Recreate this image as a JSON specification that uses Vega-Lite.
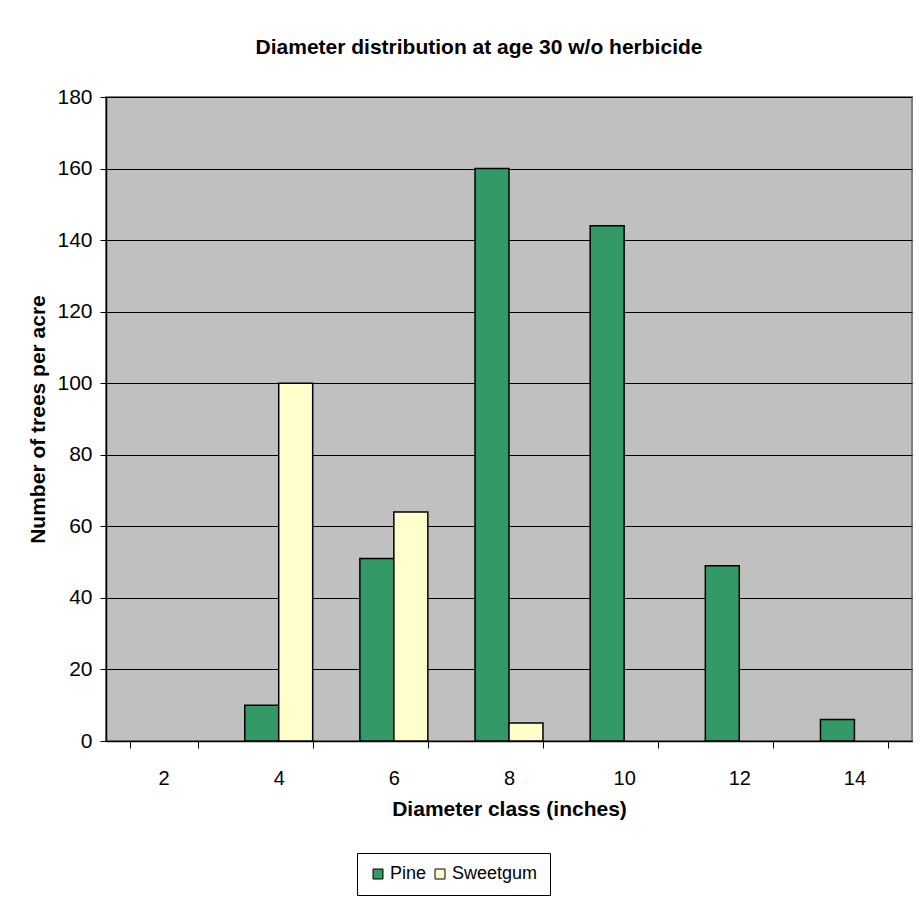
{
  "$schema": "https://vega.github.io/schema/vega-lite/v6.json",
  "width": 806,
  "height": 644,
  "autosize": {"type": "none"},
  "padding": {"left": 106, "top": 97, "right": 12, "bottom": 157},
  "background": "#ffffff",
  "title": {
    "text": "Diameter distribution at age 30 w/o herbicide",
    "font": "Liberation Sans",
    "fontSize": 21,
    "fontWeight": "bold",
    "color": "#000000",
    "anchor": "middle",
    "dx": -30,
    "offset": 28
  },
  "data": {
    "values": [
      {"class": "2", "species": "Pine", "trees": 0},
      {"class": "2", "species": "Sweetgum", "trees": 0},
      {"class": "4", "species": "Pine", "trees": 10},
      {"class": "4", "species": "Sweetgum", "trees": 100},
      {"class": "6", "species": "Pine", "trees": 51},
      {"class": "6", "species": "Sweetgum", "trees": 64},
      {"class": "8", "species": "Pine", "trees": 160},
      {"class": "8", "species": "Sweetgum", "trees": 5},
      {"class": "10", "species": "Pine", "trees": 144},
      {"class": "10", "species": "Sweetgum", "trees": 0},
      {"class": "12", "species": "Pine", "trees": 49},
      {"class": "12", "species": "Sweetgum", "trees": 0},
      {"class": "14", "species": "Pine", "trees": 6},
      {"class": "14", "species": "Sweetgum", "trees": 0}
    ]
  },
  "mark": {"type": "bar", "stroke": "#000000", "strokeWidth": 1.5},
  "encoding": {
    "x": {
      "field": "class",
      "type": "nominal",
      "sort": ["2", "4", "6", "8", "10", "12", "14"],
      "scale": {"paddingInner": 0.41, "paddingOuter": 0.205},
      "axis": {
        "title": "Diameter class (inches)",
        "labelAngle": 0,
        "tickBand": "extent",
        "tickSize": 7,
        "tickColor": "#000000",
        "domainColor": "#000000",
        "labelFont": "Liberation Sans",
        "labelFontSize": 20,
        "labelColor": "#000000",
        "labelPadding": 20,
        "titleFont": "Liberation Sans",
        "titleFontSize": 21,
        "titleFontWeight": "bold",
        "titleColor": "#000000",
        "titlePadding": 10
      }
    },
    "xOffset": {"field": "species", "type": "nominal", "scale": {"paddingInner": 0, "paddingOuter": 0}},
    "y": {
      "field": "trees",
      "type": "quantitative",
      "scale": {"domain": [0, 180], "nice": false},
      "axis": {
        "title": "Number of trees per acre",
        "values": [0, 20, 40, 60, 80, 100, 120, 140, 160, 180],
        "grid": true,
        "gridColor": "#000000",
        "gridOpacity": 1,
        "gridWidth": 1,
        "tickSize": 6,
        "tickColor": "#000000",
        "domainColor": "#000000",
        "labelFont": "Liberation Sans",
        "labelFontSize": 21,
        "labelColor": "#000000",
        "labelPadding": 8,
        "titleFont": "Liberation Sans",
        "titleFontSize": 21,
        "titleFontWeight": "bold",
        "titleColor": "#000000",
        "titlePadding": 8
      }
    },
    "color": {
      "field": "species",
      "type": "nominal",
      "scale": {"domain": ["Pine", "Sweetgum"], "range": ["#339966", "#FFFFCC"]},
      "legend": {
        "title": null,
        "orient": "none",
        "direction": "horizontal",
        "legendX": 251,
        "legendY": 756,
        "symbolType": "square",
        "symbolSize": 100,
        "symbolStrokeColor": "#000000",
        "symbolStrokeWidth": 1,
        "labelFont": "Liberation Sans",
        "labelFontSize": 18,
        "labelColor": "#000000",
        "labelOffset": 3,
        "columnPadding": 4,
        "strokeColor": "#000000",
        "fillColor": "#ffffff",
        "padding": 12
      }
    },
    "strokeOpacity": {
      "condition": {"test": "datum.trees === 0", "value": 0},
      "value": 1
    }
  },
  "config": {
    "view": {"fill": "#C0C0C0", "stroke": "#808080", "strokeWidth": 2},
    "axis": {"domainWidth": 1.5}
  }
}
